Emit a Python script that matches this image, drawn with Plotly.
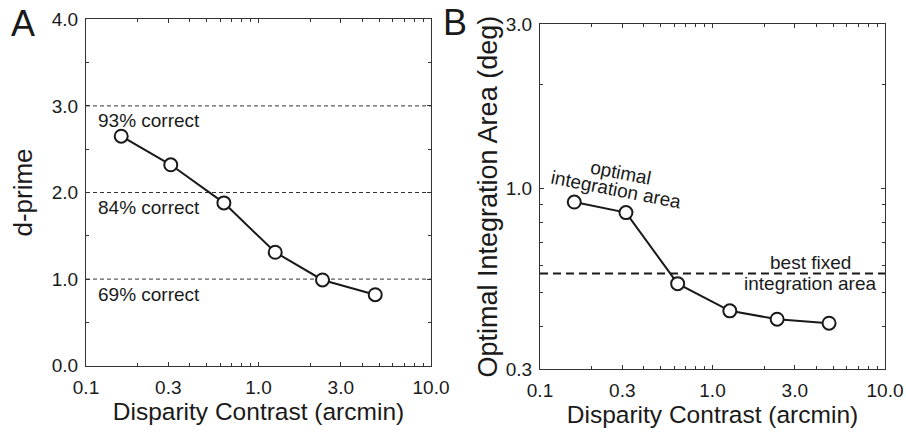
import math
import plotly.graph_objects as go

# ---------------- data ----------------
disparity_a = [0.16, 0.31, 0.63, 1.25, 2.35, 4.75]
dprime = [2.65, 2.32, 1.88, 1.31, 0.99, 0.82]

disparity_b = [0.158, 0.315, 0.628, 1.26, 2.37, 4.74]
opt_area = [0.915, 0.853, 0.531, 0.443, 0.419, 0.408]

criterion_dprime = [1.0, 2.0, 3.0]
criterion_labels = ["69% correct", "84% correct", "93% correct"]
best_fixed_area = 0.568

x_range = [0.1, 10.0]
x_tickvals = [0.1, 0.3, 1.0, 3.0, 10.0]
x_ticktext = ["0.1", "0.3", "1.0", "3.0", "10.0"]
x_minor = [0.2, 0.4, 0.5, 0.6, 0.7, 0.8, 0.9, 2, 4, 5, 6, 7, 8, 9]

ya_tickvals = [0, 1, 2, 3, 4]
ya_ticktext = ["0.0", "1.0", "2.0", "3.0", "4.0"]
ya_minor = [0.5, 1.5, 2.5, 3.5]

yb_range = [0.3, 3.0]
yb_tickvals = [0.3, 1.0, 3.0]
yb_ticktext = ["0.3", "1.0", "3.0"]
yb_minor = [0.4, 0.5, 0.6, 0.7, 0.8, 0.9, 2.0]

FONT = "Liberation Sans, Arial, Helvetica, sans-serif"
INK = "#1a1a1a"
AX = "#333333"

W, H = 906, 433

fig = go.Figure()

# Panel A dashed criterion lines
for lv in criterion_dprime:
    fig.add_trace(go.Scatter(x=x_range, y=[lv, lv], mode="lines",
                             line=dict(color="#333", width=1, dash="4px,3px"),
                             xaxis="x", yaxis="y", hoverinfo="skip", showlegend=False))
fig.add_trace(go.Scatter(x=disparity_a, y=dprime, mode="lines+markers",
                         line=dict(color=INK, width=2),
                         marker=dict(size=13, color="white", line=dict(color=INK, width=2)),
                         xaxis="x", yaxis="y", showlegend=False))

# Panel B
fig.add_trace(go.Scatter(x=x_range, y=[best_fixed_area, best_fixed_area], mode="lines",
                         line=dict(color=INK, width=2, dash="8px,5px"),
                         xaxis="x2", yaxis="y2", hoverinfo="skip", showlegend=False))
fig.add_trace(go.Scatter(x=disparity_b, y=opt_area, mode="lines+markers",
                         line=dict(color=INK, width=2),
                         marker=dict(size=13, color="white", line=dict(color=INK, width=2)),
                         xaxis="x2", yaxis="y2", showlegend=False))

def px_x(p):
    return p / W

def px_y(p):
    return 1 - p / H

common_axis = dict(showline=True, linecolor=AX, linewidth=1.3, mirror="ticks",
                   ticks="inside", ticklen=4, tickwidth=1, tickcolor=AX,
                   showgrid=False, zeroline=False, automargin=False,
                   tickfont=dict(family=FONT, size=19, color=INK))

xaxis_common = dict(common_axis, type="log",
                    range=[math.log10(x_range[0]), math.log10(x_range[1])],
                    tickvals=x_tickvals, ticktext=x_ticktext,
                    minor=dict(tickvals=x_minor, ticks="inside", ticklen=3, tickcolor=AX),
                    ticklabelstandoff=4,
                    title=dict(text="Disparity Contrast (arcmin)",
                               font=dict(family=FONT, size=24.5, color=INK), standoff=4))

fig.update_layout(
    width=W, height=H,
    margin=dict(l=0, r=0, t=0, b=0),
    paper_bgcolor="white", plot_bgcolor="white",
    font=dict(family=FONT, color=INK),
    xaxis=dict(xaxis_common, domain=[px_x(86), px_x(431)], anchor="y"),
    yaxis=dict(common_axis, domain=[px_y(365.7), px_y(19.3)], anchor="x",
               range=[0, 4], tickvals=ya_tickvals, ticktext=ya_ticktext,
               minor=dict(tickvals=ya_minor, ticks="inside", ticklen=3, tickcolor=AX),
               ticklabelstandoff=3,
               title=dict(text="d-prime", font=dict(family=FONT, size=26, color=INK),
                          standoff=11)),
    xaxis2=dict(xaxis_common, domain=[px_x(540), px_x(885)], anchor="y2"),
    yaxis2=dict(common_axis, type="log", domain=[px_y(369.3), px_y(24)], anchor="x2",
                range=[math.log10(yb_range[0]), math.log10(yb_range[1])],
                tickvals=yb_tickvals, ticktext=yb_ticktext,
                minor=dict(tickvals=yb_minor, ticks="inside", ticklen=3, tickcolor=AX),
                ticklabelstandoff=3,
                title=dict(text="Optimal Integration Area (deg)",
                           font=dict(family=FONT, size=27, color=INK), standoff=0)),
)

ann = []
# Panel letters
ann.append(dict(text="A", x=px_x(23), y=px_y(23), xref="paper", yref="paper",
                showarrow=False, font=dict(family=FONT, size=36, color=INK),
                xanchor="center", yanchor="middle"))
ann.append(dict(text="B", x=px_x(455.5), y=px_y(22.5), xref="paper", yref="paper",
                showarrow=False, font=dict(family=FONT, size=36, color=INK),
                xanchor="center", yanchor="middle"))
# Criterion labels (below each dashed line)
for lv, lab in zip(criterion_dprime, criterion_labels):
    ann.append(dict(text=lab, x=0.029, xref="x domain", y=lv, yref="y",
                    yshift=-15, showarrow=False, xanchor="left", yanchor="middle",
                    font=dict(family=FONT, size=19, color=INK)))
# Best fixed label
ann.append(dict(text="best fixed", x=0.783, xref="x2 domain",
                y=math.log10(best_fixed_area), yref="y2", yshift=11,
                showarrow=False, xanchor="center", yanchor="middle",
                font=dict(family=FONT, size=19, color=INK)))
ann.append(dict(text="integration area", x=0.783, xref="x2 domain",
                y=math.log10(best_fixed_area), yref="y2", yshift=-10,
                showarrow=False, xanchor="center", yanchor="middle",
                font=dict(family=FONT, size=19, color=INK)))
# Rotated curve label
ann.append(dict(text="optimal", x=0.232, xref="x2 domain", y=0.5685, yref="y2 domain",
                showarrow=False, textangle=11, xanchor="center", yanchor="middle",
                font=dict(family=FONT, size=19, color=INK)))
ann.append(dict(text="integration area", x=0.220, xref="x2 domain", y=0.522, yref="y2 domain",
                showarrow=False, textangle=11, xanchor="center", yanchor="middle",
                font=dict(family=FONT, size=19, color=INK)))
fig.update_layout(annotations=ann)

fig.write_html("out.html")
